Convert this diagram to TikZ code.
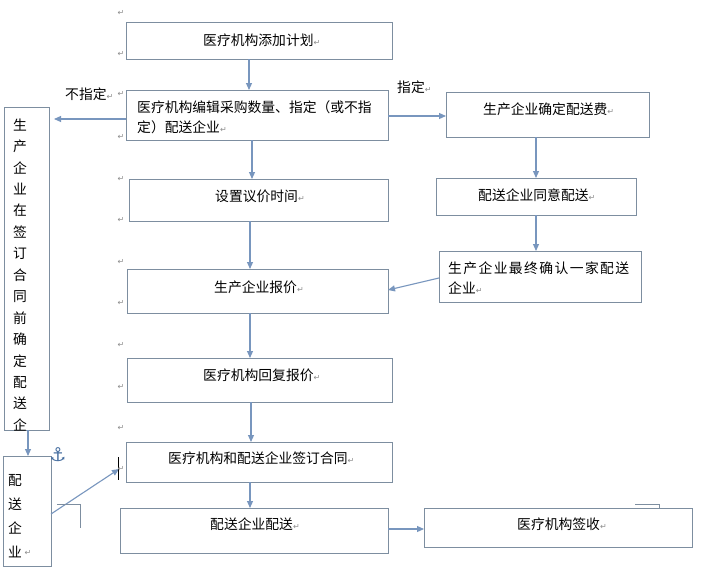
\documentclass[tikz,border=0pt]{standalone}
\usepackage{fontspec}
\setmainfont{Noto Sans CJK SC}
\newfontfamily\dejavu{DejaVu Sans}
\usetikzlibrary{arrows.meta}
\definecolor{boxc}{RGB}{125,142,160}
\definecolor{arrc}{RGB}{120,150,190}
\definecolor{ancc}{RGB}{70,110,160}
\definecolor{pmc}{RGB}{140,140,140}
\newcommand\parmk{{\dejavu\fontsize{8}{8}\selectfont\textcolor{pmc}{↵}}}
\newcommand\gp{\hspace{1.4pt}}
\begin{document}
\begin{tikzpicture}[x=1pt,y=-1pt,
  box/.style={draw=boxc, line width=0.9pt, anchor=north west, inner sep=0pt, outer sep=0pt},
  txt/.style={anchor=west, inner sep=0pt, font=\fontsize{13.8}{20}\selectfont},
  vtxt/.style={inner sep=0pt, font=\fontsize{13.8}{20}\selectfont},
  arr/.style={draw=arrc, line width=1.1pt, -{Triangle[width=6pt,length=7pt]}},
  thin/.style={draw=boxc, line width=0.7pt},
  pm/.style={inner sep=0pt}]
\useasboundingbox (0,0) rectangle (718,581);
\fill[white] (0,0) rectangle (718,581);

% boxes
\node[box, minimum width=266pt, minimum height=37pt] (b1) at (126,22) {};
\node[box, minimum width=262pt, minimum height=50pt] (b2) at (126,90) {};
\node[box, minimum width=259pt, minimum height=42pt] (b3) at (129,179) {};
\node[box, minimum width=261pt, minimum height=44pt] (b4) at (127,269) {};
\node[box, minimum width=265pt, minimum height=44pt] (b5) at (127,358) {};
\node[box, minimum width=266pt, minimum height=40pt] (b6) at (126,442) {};
\node[box, minimum width=268pt, minimum height=45pt] (b7) at (120,508) {};
\node[box, minimum width=268pt, minimum height=39pt] (b8) at (424,508) {};
\node[box, minimum width=203pt, minimum height=45pt] (b9) at (446,92) {};
\node[box, minimum width=200pt, minimum height=37pt] (b10) at (436,178) {};
\node[box, minimum width=202pt, minimum height=51pt] (b11) at (439,251) {};
\node[box, minimum width=45pt, minimum height=323pt] (bL) at (4,107) {};
\node[box, minimum width=48pt, minimum height=110pt] (bD) at (3,456) {};

% texts
\node[txt] (t1) at (203,40) {医疗机构添加计划\parmk};
\node[txt] (t2a) at (137,107) {医疗机构编辑采购数量、指定（或不指};
\node[txt] (t2b) at (137,127) {定）配送企业\parmk};
\node[txt] (t3) at (215,196) {设置议价时间\parmk};
\node[txt] (t4) at (214,287) {生产企业报价\parmk};
\node[txt] (t5) at (203,375) {医疗机构回复报价\parmk};
\node[txt] (t6) at (168,458) {医疗机构和配送企业签订合同\parmk};
\node[txt] (t7) at (210,524) {配送企业配送\parmk};
\node[txt] (t8) at (517,524) {医疗机构签收\parmk};
\node[txt] (t9) at (483,109) {生产企业确定配送费\parmk};
\node[txt] (t10) at (478,195) {配送企业同意配送\parmk};
\node[txt] (t11a) at (448,268) {生\gp 产\gp 企\gp 业\gp 最\gp 终\gp 确\gp 认\gp 一\gp 家\gp 配\gp 送};
\node[txt] (t11b) at (448,288) {企业\parmk};
\foreach \c [count=\i from 0] in {生,产,企,业,在,签,订,合,同,前,确,定,配,送,企}
  \node[vtxt] (v\i) at (20,125+21.43*\i) {\c};
\foreach \c [count=\i] in {配,送,企,业}
  \node[vtxt] (d\i) at (15,456+24*\i) {\c};
\node[pm] (dpm) at (28,553) {\parmk};

% labels
\node[txt] (lno) at (65,94) {不指定\parmk};
\node[txt] (lyes) at (397,87) {指定\parmk};

% connectors
\draw[arr] (b1.south -| 249,0) -- (b2.north -| 249,0);
\draw[arr] (b2.south -| 252,0) -- (b3.north -| 252,0);
\draw[arr] (b3.south -| 250,0) -- (b4.north -| 250,0);
\draw[arr] (b4.south -| 250,0) -- (b5.north -| 250,0);
\draw[arr] (b5.south -| 251,0) -- (b6.north -| 251,0);
\draw[arr] (b6.south -| 250,0) -- (b7.north -| 250,0);
\draw[arr] (b7.east |- 0,529) -- (b8.west |- 0,529);
\draw[arr, shorten >=5pt] (b2.west |- 0,119) -- (bL.east |- 0,119);
\draw[arr] (b2.east |- 0,116) -- (b9.west |- 0,116);
\draw[arr] (b9.south -| 536,0) -- (b10.north -| 536,0);
\draw[arr] (b10.south -| 536,0) -- (b11.north -| 536,0);
\draw[arr] (b11.west |- 0,278) -- (b4.east |- 0,290);
\draw[arr] (bL.south -| 28,0) -- (bD.north -| 28,0);
\coordinate (c6) at (119,469);
\draw[arr] (bD.east |- 0,514) -- (c6);

% artifacts
\node[inner sep=0pt, text=ancc, font=\dejavu\bfseries\fontsize{19}{19}\selectfont] (anc) at (58,455) {⚓};
\draw[black, line width=1pt] (118,457) -- (118,480);
\draw[thin] (57,504) -- (80,504) -- (80,528);
\draw[thin] (635,504) -- (659,504) -- (659,508);
\foreach \yy [count=\k] in {13,54,94,137,179,220,262,303,345,387,428,469}
  \node[pm] (pm\k) at (121,\yy) {\parmk};
\end{tikzpicture}
\end{document}
